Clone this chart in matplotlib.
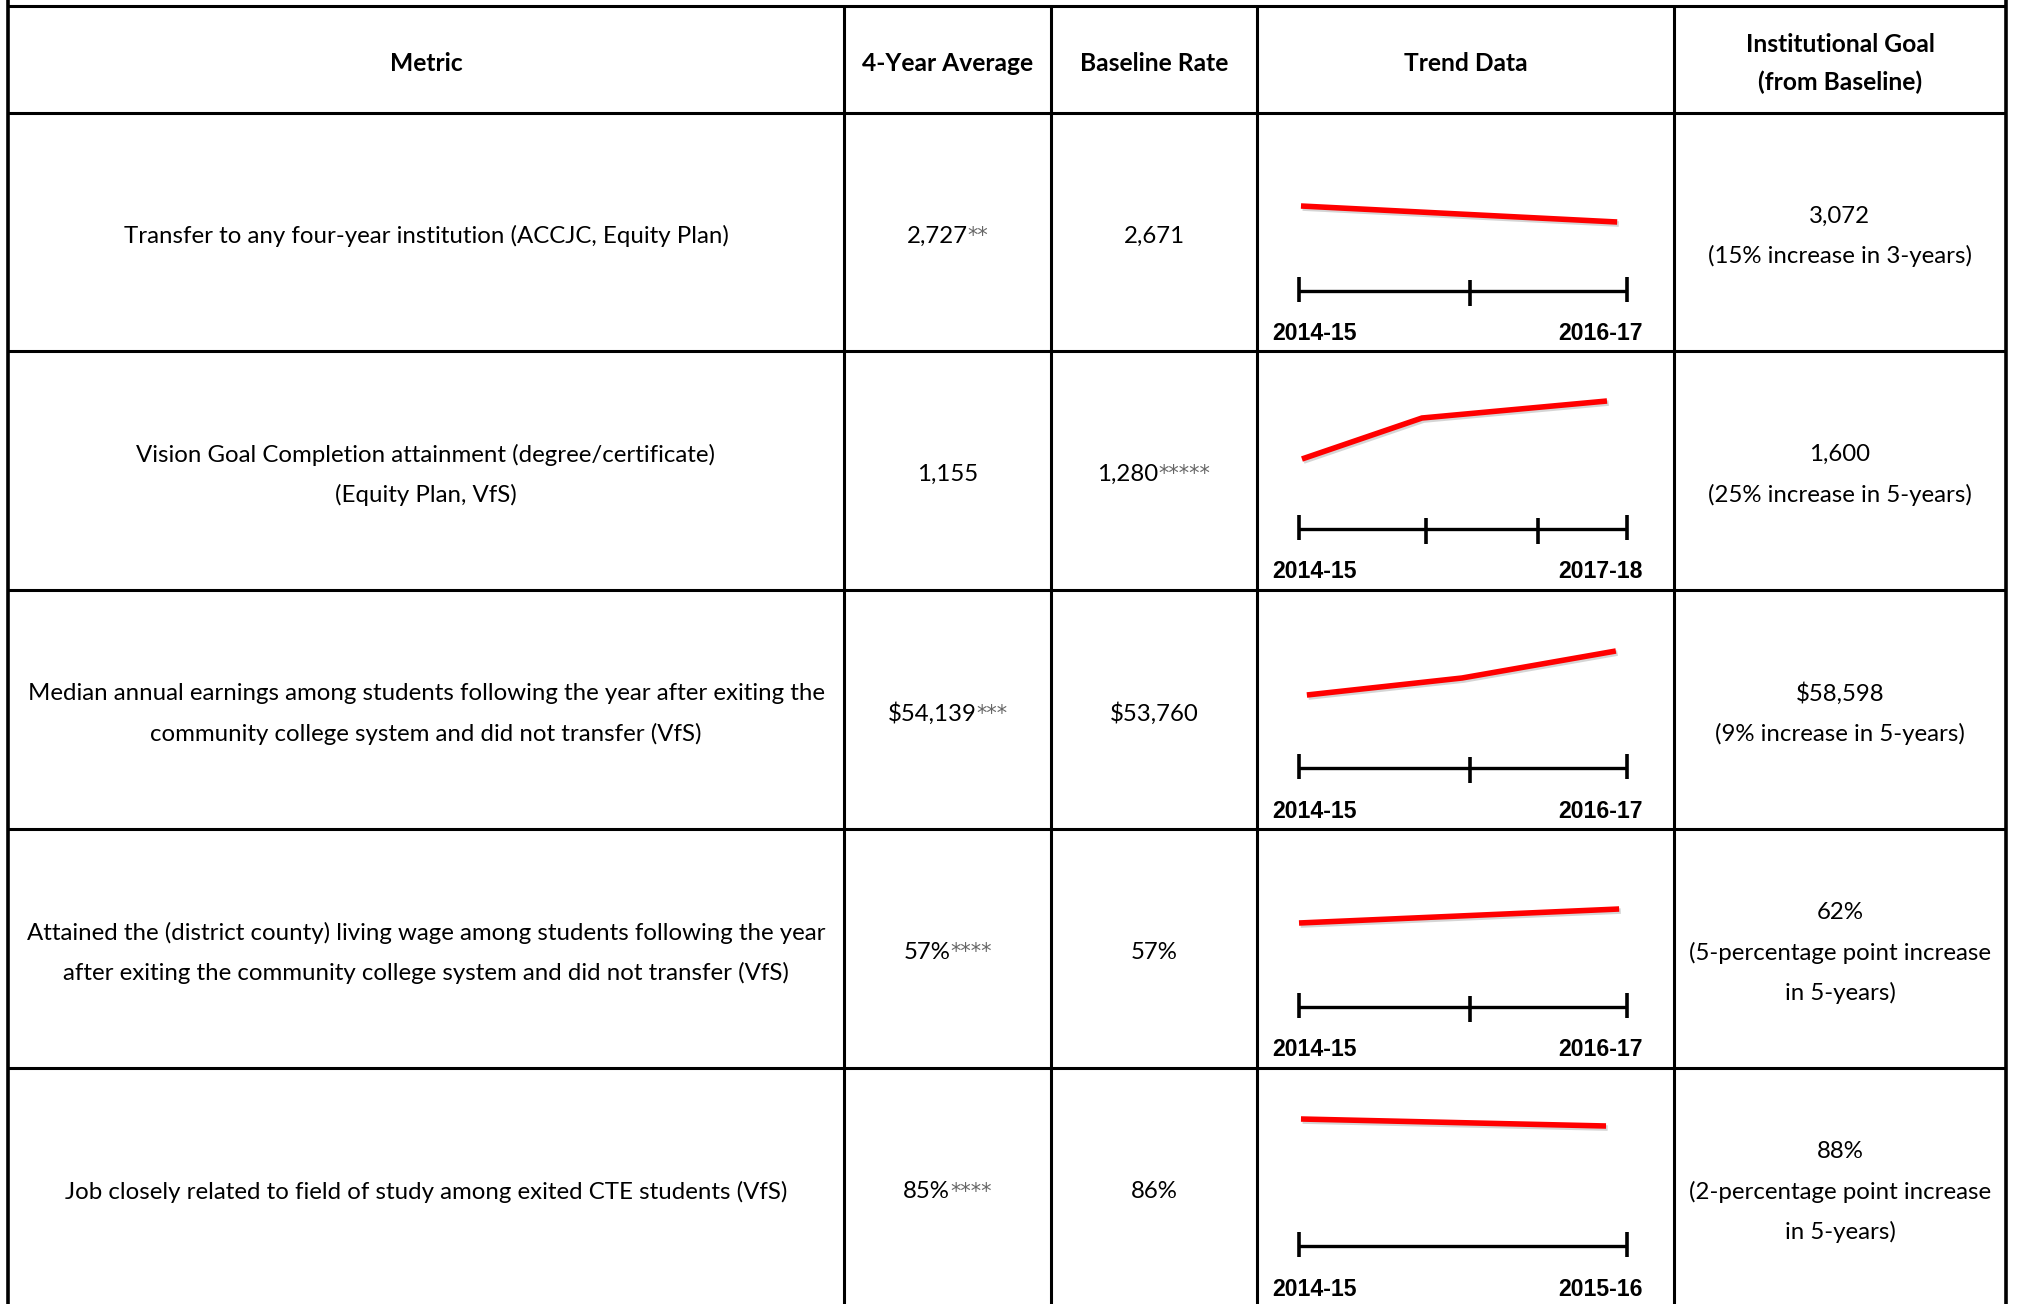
import matplotlib
matplotlib.use("Agg")
import matplotlib.pyplot as plt
import matplotlib.patheffects as pe

# ---------------- data ----------------
headers = ["Metric", "4-Year Average", "Baseline Rate", "Trend Data",
           "Institutional Goal\n(from Baseline)"]

metrics = [
    "Transfer to any four-year institution (ACCJC, Equity Plan)",
    "Vision Goal Completion attainment (degree/certificate)\n(Equity Plan, VfS)",
    "Median annual earnings among students following the year after exiting the\ncommunity college system and did not transfer (VfS)",
    "Attained the (district county) living wage among students following the year\nafter exiting the community college system and did not transfer (VfS)",
    "Job closely related to field of study among exited CTE students (VfS)",
]
avg_values = ["2,727", "1,155", "$54,139", "57%", "85%"]
avg_notes = ["**", "", "***", "****", "****"]
baseline_values = ["2,671", "1,280", "$53,760", "57%", "86%"]
baseline_notes = ["", "*****", "", "", ""]
goals = [
    "3,072\n(15% increase in 3-years)",
    "1,600\n(25% increase in 5-years)",
    "$58,598\n(9% increase in 5-years)",
    "62%\n(5-percentage point increase\nin 5-years)",
    "88%\n(2-percentage point increase\nin 5-years)",
]

# Trend sparklines: position along the timeline (0 = first year, 1 = last year)
# and relative level
trend_x = [
    [0.006, 0.970],
    [0.009, 0.375, 0.939],
    [0.024, 0.497, 0.966],
    [0.000, 0.976],
    [0.006, 0.936],
]
trend_y = [
    [85, 69],
    [70, 111, 128],
    [73, 90, 117],
    [84, 98],
    [127, 120],
]
trend_ticks = [
    [0, 0.521, 1],
    [0, 0.387, 0.729, 1],
    [0, 0.521, 1],
    [0, 0.521, 1],
    [0, 1],
]
trend_start = ["2014-15", "2014-15", "2014-15", "2014-15", "2014-15"]
trend_end = ["2016-17", "2017-18", "2016-17", "2016-17", "2015-16"]

# ---------------- layout ----------------
W, H = 2017, 1304
DPI = 100
col_edges = [8, 844, 1051, 1257, 1674, 2006]
row_edges = [6, 113, 351, 590, 829, 1068, 1307]
LINE_GAP = 40
BODY_FONT = "Lato"
BODY_SIZE = 17.3
HEAD_SIZE = 17.7
LABEL_FONT = "Liberation Sans"
LABEL_SIZE = 16.6
GRID_LW = 2.2

fig = plt.figure(figsize=(W / DPI, H / DPI), dpi=DPI)
fig.patch.set_facecolor("white")
ax = fig.add_axes([0, 0, 1, 1])
ax.set_xlim(0, W)
ax.set_ylim(H, 0)
ax.axis("off")

# grid lines
for y in row_edges:
    ax.plot([col_edges[0], col_edges[-1]], [y, y], color="black", lw=GRID_LW,
            solid_capstyle="butt")
for i, x in enumerate(col_edges):
    top = 0 if i in (0, len(col_edges) - 1) else row_edges[0]
    ax.plot([x, x], [top, H + 5], color="black", lw=GRID_LW + (0.4 if i in (0, len(col_edges) - 1) else 0),
            solid_capstyle="butt")


def col_center(c):
    return (col_edges[c] + col_edges[c + 1]) / 2


def row_center(r):
    return (row_edges[r] + row_edges[r + 1]) / 2


def multiline(text, cx, cy, bold=False, size=BODY_SIZE, gap=LINE_GAP):
    lines = text.split("\n")
    n = len(lines)
    for i, line in enumerate(lines):
        y = cy + (i - (n - 1) / 2) * gap
        ax.text(cx, y, line, ha="center", va="center_baseline", fontsize=size,
                family=BODY_FONT, fontweight="bold" if bold else "normal",
                color="black", parse_math=False)


# header
for c, h in enumerate(headers):
    multiline(h, col_center(c), row_center(0) + 2, bold=True, size=HEAD_SIZE, gap=37)

renderer = fig.canvas.get_renderer()


def value_with_note(value, note, cx, cy):
    t1 = ax.text(cx, cy, value, ha="left", va="center_baseline", fontsize=BODY_SIZE,
                 family=BODY_FONT, color="black", parse_math=False)
    t2 = ax.text(cx, cy, note, ha="left", va="center_baseline", fontsize=15,
                 family="DejaVu Sans", color="#666666", parse_math=False)
    w1 = t1.get_window_extent(renderer).width
    w2 = t2.get_window_extent(renderer).width if note else 0
    x0 = cx - (w1 + w2) / 2
    t1.set_x(x0)
    t2.set_x(x0 + w1)


for r in range(5):
    cy = row_center(r + 1) + 2
    multiline(metrics[r], col_center(0), cy)
    value_with_note(avg_values[r], avg_notes[r], col_center(1), cy)
    value_with_note(baseline_values[r], baseline_notes[r], col_center(2), cy)
    multiline(goals[r], col_center(4), cy)

    # sparkline
    top = row_edges[r + 1]
    axis_y = top + 178
    x0, x1 = 1299, 1627
    y_top = top + 10
    y_bot = axis_y + 20
    sax = fig.add_axes([x0 / W, 1 - y_bot / H, (x1 - x0) / W, (y_bot - y_top) / H])
    sax.set_xlim(0, 1)
    sax.set_ylim(-(y_bot - axis_y), axis_y - y_top)
    sax.axis("off")
    sax.plot([0, 1], [0, 0], color="black", lw=2.4, solid_capstyle="butt", clip_on=False)
    ticks = trend_ticks[r]
    for k, t in enumerate(ticks):
        end = k in (0, len(ticks) - 1)
        sax.plot([t, t], [-11, 14] if end else [-15, 11], color="black", lw=2.6,
                 solid_capstyle="butt", clip_on=False)
    sax.plot(trend_x[r], trend_y[r], color="#ff0000", lw=4.0, solid_capstyle="butt",
             solid_joinstyle="miter", clip_on=False,
             path_effects=[pe.SimpleLineShadow(offset=(1.2, -1.5), shadow_color="#888888", alpha=0.35),
                           pe.Normal()])

    ly = top + 221
    ax.text(1272, ly, trend_start[r], ha="left", va="center", fontsize=LABEL_SIZE,
            family=LABEL_FONT, fontweight="bold", color="black")
    ax.text(1643, ly, trend_end[r], ha="right", va="center", fontsize=LABEL_SIZE,
            family=LABEL_FONT, fontweight="bold", color="black")

fig.savefig("out.png", dpi=DPI, facecolor="white")
